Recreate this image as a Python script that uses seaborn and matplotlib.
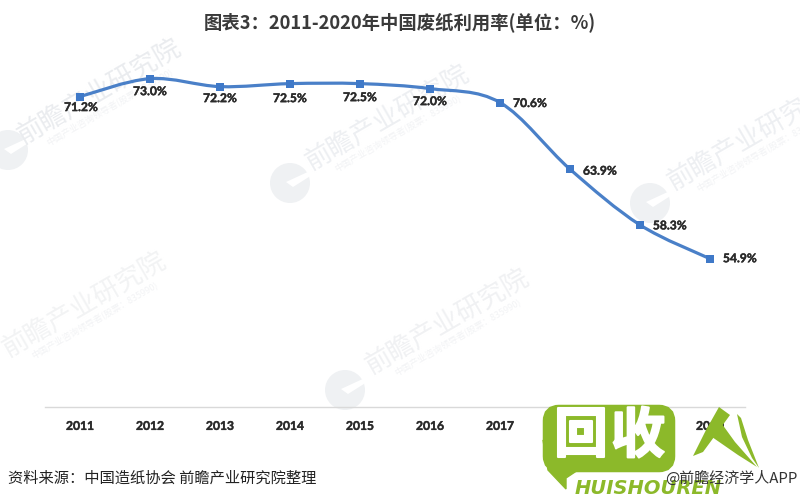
import numpy as np
import pandas as pd
import seaborn as sns
import matplotlib
matplotlib.use("Agg")
import matplotlib.pyplot as plt
import matplotlib.patheffects as pe
from matplotlib.path import Path
from matplotlib.patches import PathPatch, FancyBboxPatch, Polygon, Circle

years = ["2011", "2012", "2013", "2014", "2015", "2016", "2017", "2018", "2019", "2020"]
rates = [71.2, 73.0, 72.2, 72.5, 72.5, 72.0, 70.6, 63.9, 58.3, 54.9]
title = "图表3：2011-2020年中国废纸利用率(单位：%)"
source = "资料来源：中国造纸协会 前瞻产业研究院整理"
credit = "@前瞻经济学人APP"
wm_main = "前瞻产业研究院"
wm_sub = "中国产业咨询领导者(股票：835990)"

sns.set_theme(style="white")
CJK = ["Noto Sans CJK SC", "DejaVu Sans"]
plt.rcParams["font.family"] = CJK

BLUE = "#4a80c8"
MARK = "#3f79c8"
df = pd.DataFrame({"year": years, "rate": rates})

fig = plt.figure(figsize=(8, 5), dpi=100, facecolor="white")

# watermark layer, in pixel coordinates
bg = fig.add_axes([0, 0, 1, 1], zorder=0)
bg.set_xlim(0, 800); bg.set_ylim(500, 0); bg.axis("off")
for (x, y, col) in [(100, 92, "#eaecef"), (388, 118, "#edeff2"), (85, 305, "#f2f3f4"),
                    (448, 322, "#f0f1f3"), (750, 138, "#edeff2")]:
    bg.text(x, y, wm_main, fontsize=19, color=col, rotation=30, ha="center", va="center",
            rotation_mode="anchor", clip_on=True)
    bg.text(x + 9, y + 15, wm_sub, fontsize=6.5, color="#f2f3f5", rotation=30, ha="center", va="center",
            rotation_mode="anchor", clip_on=True)
for (x, y) in [(8, 150), (290, 183), (650, 203), (345, 390)]:
    bg.add_patch(Circle((x, y), 20, color="#eff1f3", lw=0))
    bg.add_patch(Polygon([(x - 4, y - 1), (x + 22, y - 13), (x + 22, y - 8), (x + 3, y + 4)],
                         fc="white", ec="none"))

# chart
ax = fig.add_axes([45 / 800, 93 / 500, 700 / 800, 398 / 500], zorder=1)
ax.patch.set_alpha(0)
sns.scatterplot(data=df, x="year", y="rate", ax=ax, marker="s", s=38, color=MARK,
                linewidth=0, zorder=4)
ax.set_xlim(-0.5, 9.5)
ax.set_ylim(40, 80)

# smooth curve through the data (Catmull-Rom to Bezier)
xs = np.arange(len(rates), dtype=float)
ys = np.array(rates, dtype=float)
verts = [(xs[0], ys[0])]
codes = [Path.MOVETO]
for i in range(len(xs) - 1):
    p0 = i - 1 if i > 0 else i
    p3 = i + 2 if i + 2 < len(xs) else i + 1
    c1 = (xs[i] + (xs[i + 1] - xs[p0]) / 6, ys[i] + (ys[i + 1] - ys[p0]) / 6)
    c2 = (xs[i + 1] - (xs[p3] - xs[i]) / 6, ys[i + 1] - (ys[p3] - ys[i]) / 6)
    verts += [c1, c2, (xs[i + 1], ys[i + 1])]
    codes += [Path.CURVE4] * 3
ax.add_patch(PathPatch(Path(verts, codes), fill=False, edgecolor=BLUE, lw=2.3,
                       capstyle="round", zorder=3))

# value labels
offsets = [(1, -11), (0, -13), (0, -12), (0, -15), (0, -14), (0, -13), (30, -1), (30, -2), (30, -1), (30, 0)]
for i, (v, off) in enumerate(zip(rates, offsets)):
    ax.annotate(f"{v:.1f}%", (i, v), xytext=off, textcoords="offset pixels",
                ha="center", va="center", fontsize=8.7, fontweight="bold",
                color="#2b2b2b", family=["Lato", "DejaVu Sans"], zorder=5,
                path_effects=[pe.withStroke(linewidth=0.3, foreground="#2b2b2b")])

sns.despine(ax=ax, left=True)
ax.spines["bottom"].set_color("#d9d9d9")
ax.spines["bottom"].set_linewidth(1.0)
ax.set_xlabel(""); ax.set_ylabel("")
ax.set_yticks([])
ax.tick_params(axis="x", length=0, pad=10)
for lab in ax.get_xticklabels():
    lab.set_fontsize(8.7)
    lab.set_fontweight("bold")
    lab.set_color("#2b2b2b")
    lab.set_family(["Lato", "DejaVu Sans"])
    lab.set_path_effects([pe.withStroke(linewidth=0.3, foreground="#2b2b2b")])

# logo overlay, in pixel coordinates
top = fig.add_axes([0, 0, 1, 1], zorder=2)
top.set_xlim(0, 800); top.set_ylim(500, 0); top.axis("off"); top.patch.set_alpha(0)
top.text(400, 22, title, ha="center", va="center", fontsize=13.2, fontweight="bold",
         color="#3a3a3a", family=CJK)
GREEN = "#8cb92a"
top.add_patch(FancyBboxPatch((549, 411), 120, 55, boxstyle="round,pad=0,rounding_size=10",
                             fc=GREEN, ec=GREEN, lw=9, zorder=1))
top.add_patch(Polygon([(543, 440), (548, 470), (566, 489), (566, 478), (578, 470)],
                      fc=GREEN, ec=GREEN, zorder=1))
for x, ch in [(581, "回"), (638, "收")]:
    top.text(x, 437, ch, color="white", fontsize=39, fontweight="bold", ha="center", va="center", zorder=2,
             path_effects=[pe.withStroke(linewidth=1.5, foreground="white")])
top.text(648, 489, "HUISHOUREN", color=GREEN, fontsize=14, fontweight="bold", style="italic",
         ha="center", va="center", family=["DejaVu Sans"], zorder=2)
top.add_patch(Polygon([(693, 456), (706, 430), (719, 407), (730, 415), (714, 437), (703, 452)],
                      fc=GREEN, ec="none", zorder=2))
top.add_patch(Polygon([(712, 437), (722, 424), (735, 442), (757, 467), (738, 455)],
                      fc=GREEN, ec="none", zorder=2))
top.add_patch(Polygon([(737, 414), (741, 418), (748, 440), (759, 468), (752, 458), (742, 437)],
                      fc=GREEN, ec="none", zorder=2))
top.text(8, 478, source, fontsize=11, color="#222222", ha="left", va="center", zorder=3)
top.text(798, 478, credit, fontsize=10.8, color="#333333", ha="right", va="center", zorder=3)

fig.savefig("out.png", dpi=100)
